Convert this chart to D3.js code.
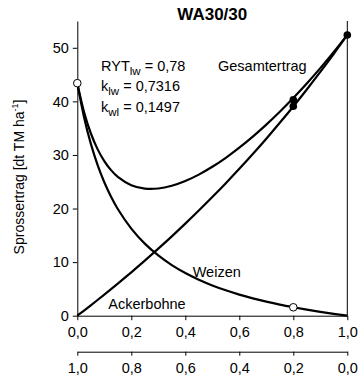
<!DOCTYPE html>
<html>
<head>
<meta charset="utf-8">
<script src="https://cdn.jsdelivr.net/npm/d3@7"></script>
<style>
html, body { margin: 0; padding: 0; background: #fff; }
svg { display: block; font-family: "Liberation Sans", Arial, sans-serif; }
</style>
</head>
<body>
<svg id="chart" width="358" height="387"></svg>
<script>
// Proportion of Ackerbohne (top axis); Weizen = 1 - x (bottom axis)
const xValues = [0, 0.025, 0.05, 0.075, 0.1, 0.125, 0.15, 0.2, 0.25, 0.3, 0.35, 0.4, 0.45, 0.5, 0.55, 0.6, 0.65, 0.7, 0.75, 0.8, 0.85, 0.9, 0.95, 1.0];
const ackerbohne = [0, 0.96, 1.94, 2.93, 3.94, 4.96, 5.99, 8.10, 10.27, 12.51, 14.81, 17.18, 19.62, 22.14, 24.74, 27.42, 30.18, 33.04, 36.00, 39.05, 42.22, 45.49, 48.88, 52.4];
const weizen = [43.4, 37.05, 32.11, 28.15, 24.91, 22.21, 19.92, 16.26, 13.45, 11.24, 9.44, 7.96, 6.71, 5.65, 4.74, 3.94, 3.24, 2.62, 2.06, 1.57, 1.12, 0.71, 0.34, 0];
const gesamtertrag = [43.4, 38.02, 34.05, 31.09, 28.85, 27.17, 25.91, 24.36, 23.72, 23.74, 24.25, 25.14, 26.33, 27.79, 29.47, 31.36, 33.42, 35.66, 38.06, 40.62, 43.33, 46.20, 49.22, 52.4];

// observed points
const weizenObsX = [0, 0.8];
const weizenObsY = [43.4, 1.57];
const bohneObsX = [0.8, 0.8, 1.0];
const bohneObsY = [39.1, 40.3, 52.4];

const yTicks = [0, 10, 20, 30, 40, 50];
const xTicks = [0, 0.2, 0.4, 0.6, 0.8, 1.0];

const title = "WA30/30";
const yLabel = "Sprossertrag [dt TM ha";

const svg = d3.select("#chart");
const locale = d3.formatLocale({decimal: ",", thousands: ".", grouping: [3], currency: ["", "€"]});
const fmt1 = locale.format(".1f");

const x = d3.scaleLinear().domain([0, 1]).range([77.3, 347.3]);
const x2 = d3.scaleLinear().domain([1, 0]).range([77.3, 347.3]);
const y = d3.scaleLinear().domain([0, 55]).range([315.7, 21]);

const fs = 14.5;

// Y axis
const yAxis = svg.append("g").attr("transform", `translate(${x(0)},0)`)
  .call(d3.axisLeft(y).tickValues(yTicks).tickSize(4.5).tickSizeOuter(0).tickPadding(4));
// X axis (Ackerbohne)
const xAxis = svg.append("g").attr("transform", `translate(0,${y(0)})`)
  .call(d3.axisBottom(x).tickValues(xTicks).tickFormat(fmt1).tickSize(4.5).tickSizeOuter(0).tickPadding(7));
// second X axis (Weizen)
const xAxis2 = svg.append("g").attr("transform", `translate(0,${351.7})`)
  .call(d3.axisBottom(x2).tickValues(xTicks).tickFormat(fmt1).tickSize(4).tickSizeOuter(0).tickPadding(7));

[yAxis, xAxis, xAxis2].forEach(g => {
  g.selectAll("text").attr("font-size", fs).attr("fill", "#000").attr("font-family", "Liberation Sans, Arial, sans-serif");
  g.selectAll("path, line").attr("stroke", "#000").attr("stroke-width", 1);
});

// right border line
svg.append("line").attr("x1", x(1)).attr("x2", x(1)).attr("y1", y(55)).attr("y2", y(0))
  .attr("stroke", "#000").attr("stroke-width", 1);

// curves
const line = (arr) => d3.line().x((d, i) => x(xValues[i])).y(d => y(d)).curve(d3.curveCatmullRom.alpha(0.5))(arr);
[ackerbohne, weizen, gesamtertrag].forEach(s => {
  svg.append("path").attr("d", line(s)).attr("fill", "none").attr("stroke", "#000").attr("stroke-width", 2.2);
});

// observed points
bohneObsX.forEach((v, i) => {
  svg.append("circle").attr("cx", x(v)).attr("cy", y(bohneObsY[i])).attr("r", 3.8).attr("fill", "#000");
});
weizenObsX.forEach((v, i) => {
  svg.append("circle").attr("cx", x(v)).attr("cy", y(weizenObsY[i])).attr("r", 3.8)
    .attr("fill", "#fff").attr("stroke", "#000").attr("stroke-width", 1);
});

// title
svg.append("text").attr("x", (x(0) + x(1)) / 2).attr("y", 20).attr("text-anchor", "middle")
  .attr("font-size", 17).attr("font-weight", "bold").text(title);

// y label
const yl = svg.append("text").attr("transform", `translate(24,${177}) rotate(-90)`)
  .attr("text-anchor", "middle").attr("font-size", 14);
yl.append("tspan").text(yLabel);
yl.append("tspan").attr("font-size", 9).attr("dy", -6).text("-1");
yl.append("tspan").attr("dy", 6).text("]");

// annotations
function subText(xp, yp, main, sub, rest) {
  const t = svg.append("text").attr("x", xp).attr("y", yp).attr("font-size", fs);
  t.append("tspan").text(main);
  t.append("tspan").attr("font-size", 11.5).attr("dy", 4).text(sub);
  t.append("tspan").attr("dy", -4).text(rest);
}
subText(101, 70.5, "RYT", "lw", " = 0,78");
subText(101, 91, "k", "lw", " = 0,7316");
subText(101, 111.5, "k", "wl", " = 0,1497");

svg.append("text").attr("x", 218).attr("y", 70.5).attr("font-size", fs).text("Gesamtertrag");
svg.append("text").attr("x", 192.7).attr("y", 276.7).attr("font-size", fs).text("Weizen");
svg.append("text").attr("x", 108.3).attr("y", 309.3).attr("font-size", fs).text("Ackerbohne");
</script>
</body>
</html>
